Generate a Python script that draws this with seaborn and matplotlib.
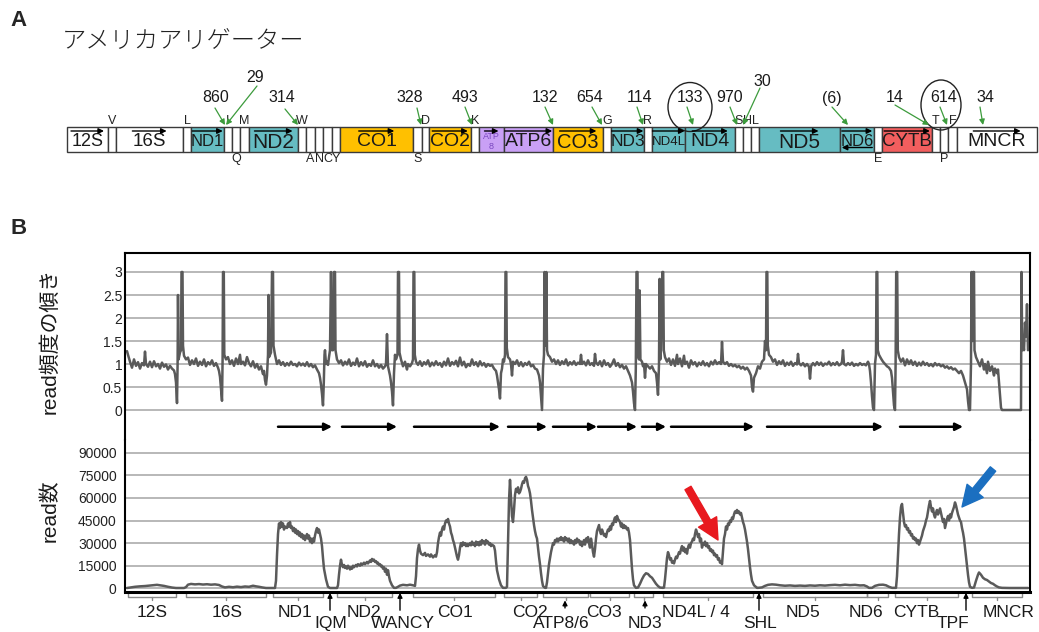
import matplotlib
matplotlib.use("Agg")
import matplotlib.pyplot as plt
from matplotlib.patches import Rectangle, Ellipse
import pandas as pd
import seaborn as sns

sns.set_theme(style="white")
plt.rcParams['font.family'] = ['Liberation Sans', 'Noto Sans CJK JP', 'DejaVu Sans']

# ---------------- panel A: gene map (map units along the genome) ----------------
map_names = ['12S', 'V', '16S', 'L', 'ND1', 'I', 'Q', 'M', 'ND2', 'W', 'A', 'N', 'C', 'Y',
             'CO1', 'S', 'D', 'CO2', 'K', 'ATP8', 'ATP6', 'CO3', 'G', 'ND3', 'R', 'ND4L', 'ND4',
             'S', 'H', 'L', 'ND5', 'ND6', 'E', 'CYTB', 'T', 'P', 'F', 'MNCR']
map_edges = [67, 108, 116, 183, 191, 224, 232, 240, 249, 298, 306, 315, 323, 332, 340, 413, 422,
             429, 471, 479, 504, 553, 603, 611, 644, 652, 685, 735, 743, 751, 759, 840, 874, 882,
             932, 940, 948, 957, 1037]
# tRNA label side: a = above the bar, b = below
map_side = ['', 'a', '', 'a', '', 'a', 'b', 'a', '', 'a', 'b', 'b', 'b', 'b', '', 'b', 'a', '', 'a',
            '', '', '', 'a', '', 'a', '', '', 'a', 'a', 'a', '', '', 'b', '', 'a', 'b', 'a', '']

num_text = ['29', '860', '314', '328', '493', '132', '654', '114', '133', '970', '30', '(6)', '14', '614', '34']
num_x = [255, 216, 282, 410, 465, 545, 590, 640, 690, 730, 762, 832, 895, 944, 985]
num_y = [77, 98, 98, 98, 98, 98, 98, 98, 98, 98, 82, 98, 98, 98, 98]
num_tail_x = [257, 215, 285, 417, 465, 545, 592, 637, 687, 730, 760, 832, 895, 940, 980]
num_tail_y = [86, 108, 109, 108, 107, 107, 107, 107, 107, 107, 88, 107, 105, 107, 107]
num_tip_x = [226, 225, 298, 421, 472, 553, 602, 643, 693, 737, 743, 848, 929, 947, 983]

# ---------------- panel B: read-frequency slope (position, value) ----------------
ratio_seg01 = [(127, 1.28), (128, 1.2), (130, 1.05), (132, 0.92), (134, 1.1), (136, 0.96), (138, 1.04),
               (140, 0.9), (142, 1.02), (144, 0.97), (145, 1.27), (146, 1.0), (148, 0.94), (150, 1.05),
               (152, 0.93), (154, 1.06), (156, 0.95), (158, 1.0), (160, 0.9), (162, 1.03), (164, 0.94),
               (166, 0.99), (168, 0.88), (170, 0.96), (172, 0.9), (174, 0.86), (175, 0.78), (176, 0.6),
               (177, 0.15), (177.6, 1.0), (178, 2.5), (178.6, 1.1), (180, 1.25), (181, 1.3), (181.5, 3.0),
               (182.5, 3.0), (183, 1.4), (184, 1.18)]
ratio_seg02 = [(186, 1.1), (188, 1.14), (190, 0.98), (192, 1.08), (194, 1.0), (196, 1.12), (198, 0.96),
               (200, 1.05), (202, 0.98), (204, 1.1), (206, 0.95), (208, 1.04), (210, 0.99), (212, 1.08),
               (214, 0.96), (216, 1.02), (218, 0.92), (219, 0.85), (220, 0.72), (221, 0.45), (222, 0.2),
               (222.6, 1.1), (223, 3.0), (223.8, 3.0), (224.3, 1.2), (226, 1.1)]
ratio_seg03 = [(228, 1.15), (230, 1.0), (232, 1.08), (234, 0.96), (236, 1.12), (238, 1.0), (240, 1.2),
               (241, 1.0), (243, 1.05), (245, 0.97), (247, 1.15), (249, 1.02), (251, 0.95), (253, 1.06),
               (255, 0.92), (257, 1.0), (259, 0.88), (261, 0.95), (263, 0.78), (264, 0.85), (265, 0.65),
               (266, 0.55), (267, 0.75), (268, 1.2), (268.5, 2.5), (269, 1.15), (271, 1.25), (272, 3.0),
               (273, 3.0), (273.5, 1.4), (275, 1.2)]
ratio_seg04 = [(277, 1.0), (279, 1.08), (281, 0.98), (283, 1.04), (285, 0.96), (287, 1.02), (289, 0.97),
               (291, 1.05), (293, 0.98), (295, 1.0), (297, 0.95), (299, 1.03), (301, 0.97), (303, 1.01),
               (305, 0.96), (307, 1.04), (309, 0.95), (311, 1.0), (313, 0.93), (315, 0.97), (317, 0.88),
               (319, 0.8), (320, 0.7), (321, 0.55), (322, 0.35), (323, 0.1), (323.8, 0.6), (324.5, 1.2),
               (325, 1.3), (326, 1.0), (327, 1.05), (328, 0.98), (329, 1.15), (330, 1.3), (331, 3.0),
               (332, 1.3), (333, 1.3), (334, 3.0), (335, 3.0), (335.5, 1.3), (337, 1.1)]
ratio_seg05 = [(339, 1.02), (341, 1.08), (343, 0.97), (345, 1.05), (347, 0.99), (349, 1.1), (351, 0.96),
               (353, 1.03), (355, 0.98), (357, 1.12), (359, 0.95), (361, 1.04), (363, 0.97), (365, 1.06),
               (367, 0.94), (369, 1.0), (371, 0.96), (373, 1.08), (375, 0.95), (377, 1.0), (379, 0.92),
               (381, 0.98), (383, 0.9), (385, 0.95), (386, 1.0), (387, 1.65), (388, 0.95), (389, 0.85),
               (390, 0.75), (391, 0.6), (392, 0.4), (393, 0.1), (394, 0.8), (395, 1.2), (396, 1.1),
               (397.5, 1.2), (398, 3.0), (399, 3.0), (399.5, 1.25), (401, 1.1)]
ratio_seg06 = [(403, 0.95), (405, 1.05), (407, 0.88), (408, 1.0), (410, 0.95), (412, 1.02), (413, 1.1),
               (413.5, 3.0), (414.3, 3.0), (414.8, 1.2), (416, 1.05)]
ratio_seg07 = [(418, 0.98), (420, 1.06), (422, 0.96), (424, 1.04), (426, 0.99), (428, 1.08), (430, 0.95),
               (432, 1.03), (434, 0.97), (436, 1.06), (438, 0.98), (440, 1.02), (442, 0.94), (444, 1.05),
               (446, 0.97), (448, 1.12), (450, 0.96), (452, 1.04), (454, 0.99), (456, 1.07), (458, 0.95),
               (460, 1.14), (462, 0.97), (464, 1.05), (466, 0.93), (468, 1.0), (470, 0.96), (472, 1.1),
               (474, 0.98), (476, 1.04), (478, 0.95), (480, 1.06), (482, 0.97), (484, 1.02), (486, 0.94),
               (488, 1.0), (490, 0.96), (492, 0.98), (494, 0.9), (496, 0.85), (497, 0.75), (498, 0.6),
               (499, 0.45), (500, 0.25), (501, 0.8), (502, 0.9), (503, 1.1), (504, 1.05), (505, 1.2),
               (505.5, 3.0), (506.3, 3.0), (506.8, 1.35), (508, 1.15)]
ratio_seg08 = [(510, 1.1), (511, 1.0), (512, 0.75), (513, 1.05), (515, 1.0), (517, 1.08), (519, 0.96),
               (521, 1.04), (523, 0.95), (525, 1.02), (527, 0.98), (529, 1.05), (531, 0.95), (533, 0.98),
               (535, 0.9), (537, 0.88), (539, 0.75), (540, 0.6), (541, 0.3), (542, 0.0), (543, 0.9),
               (544, 1.2), (544.5, 3.0), (545.5, 1.4), (546.3, 3.0), (547, 1.3), (548, 1.2)]
ratio_seg09 = [(550, 1.15), (552, 1.05), (554, 1.1), (556, 1.0), (558, 1.08), (560, 0.98), (562, 1.06),
               (564, 1.0), (566, 1.1), (568, 0.97), (570, 1.04), (572, 0.99), (574, 1.06), (576, 0.98),
               (578, 1.03), (580, 1.0), (581, 1.2), (582, 1.0), (584, 1.05), (586, 0.97), (588, 1.08),
               (590, 0.98), (592, 1.02), (594, 0.96), (595, 1.22), (596, 1.04), (598, 0.98), (600, 1.06),
               (602, 0.95), (604, 1.08), (606, 0.98), (608, 1.02), (610, 0.94), (612, 1.0), (614, 1.1),
               (616, 0.96), (618, 1.02), (620, 0.93), (622, 0.98), (624, 0.9), (626, 0.95), (628, 0.85),
               (630, 0.75), (632, 0.6), (633, 0.4), (634, 0.15), (635, 0.0), (635.8, 0.9), (636.5, 3.0),
               (637.5, 3.0), (638, 1.2), (639, 1.1), (639.6, 2.6), (640.4, 1.1), (642, 1.05)]
ratio_seg10 = [(643, 0.95), (644, 1.0), (645, 0.7), (646, 1.0), (648, 0.95), (650, 0.9), (652, 0.95),
               (654, 0.85), (656, 0.8), (657, 0.6), (658, 0.33), (659, 1.0), (659.6, 2.85), (660.3, 1.1),
               (661, 1.3), (662.3, 3.0), (663.2, 3.0), (663.8, 1.3), (665, 1.15)]
ratio_seg11 = [(667, 1.05), (669, 1.12), (671, 0.98), (673, 1.1), (675, 0.96), (677, 1.2), (678, 1.0),
               (680, 1.12), (682, 0.95), (684, 1.18), (685, 1.0), (687, 1.05), (689, 0.92), (691, 1.08),
               (693, 0.99), (695, 1.04), (697, 0.95), (699, 1.03), (701, 0.98), (703, 1.06), (705, 0.97),
               (707, 1.02), (709, 0.95), (711, 1.05), (713, 0.99), (715, 1.08), (717, 1.0), (719, 1.04),
               (721, 1.0), (722, 1.48), (723, 1.05), (725, 1.0), (727, 1.04), (729, 0.96), (731, 1.0),
               (733, 0.95), (735, 0.98), (737, 0.93), (739, 0.96), (741, 0.9), (743, 0.94), (745, 0.88),
               (747, 0.92), (749, 0.85), (751, 0.75), (752, 0.5), (753, 0.4), (754, 0.7), (756, 0.8),
               (758, 0.95), (760, 0.9), (762, 1.05), (764, 1.1), (765, 1.5), (766, 1.3), (766.5, 3.0),
               (767.3, 3.0), (767.8, 1.4), (769, 1.2)]
ratio_seg12 = [(771, 1.15), (773, 1.05), (775, 1.1), (777, 0.98), (779, 1.06), (781, 1.0), (783, 1.08),
               (785, 0.96), (787, 1.03), (789, 0.98), (791, 1.05), (793, 0.96), (795, 1.02), (797, 0.99),
               (798, 1.22), (799, 1.02), (801, 0.97), (803, 1.02), (805, 0.95), (807, 1.0), (809, 0.94),
               (810, 0.68), (811, 0.95), (813, 1.02), (815, 0.97), (817, 1.04), (819, 0.98), (821, 1.03),
               (823, 0.96), (825, 1.01), (827, 0.99), (829, 1.05), (831, 0.97), (833, 1.02), (835, 0.98),
               (837, 1.04), (839, 0.97), (841, 1.0), (842, 1.05), (843, 1.3), (844, 1.0), (846, 0.97),
               (848, 1.02), (850, 0.98), (852, 1.03), (854, 0.96), (856, 1.0), (858, 0.97), (860, 1.02),
               (862, 0.98), (864, 1.0), (866, 0.97), (868, 1.05), (869, 1.0), (870, 0.85), (871, 0.6),
               (872, 0.3), (873, 0.05), (874, 0.0), (875, 1.0), (876, 1.2), (876.5, 3.0), (877.3, 3.0),
               (877.8, 1.3), (879, 1.2)]
ratio_seg13 = [(881, 1.12), (883, 1.05), (885, 1.0), (887, 0.95), (889, 0.92), (891, 0.85), (892, 0.7),
               (893, 0.4), (894, 0.1), (895, 0.0), (895.6, 1.0), (896.2, 3.0), (897.2, 3.0), (897.8, 1.3),
               (899, 1.15)]
ratio_seg14 = [(901, 1.05), (903, 1.12), (905, 0.97), (907, 1.1), (909, 1.0), (911, 1.08), (913, 0.98),
               (915, 1.05), (917, 0.96), (919, 1.03), (921, 0.97), (923, 1.05), (925, 0.98), (927, 1.02),
               (929, 0.96), (931, 1.0), (933, 0.95), (935, 1.02), (937, 0.97), (939, 1.0), (941, 0.95),
               (943, 0.98), (945, 0.92), (947, 0.95), (949, 0.9), (951, 0.93), (953, 0.88), (955, 0.9),
               (957, 0.85), (959, 0.8), (961, 0.85), (963, 0.75), (965, 0.6), (967, 0.45), (968, 0.2),
               (969, 0.0), (970, 0.0), (971, 1.0), (971.5, 3.0), (972.5, 1.5), (973, 3.0), (974, 3.0),
               (974.5, 1.3), (976, 1.15)]
ratio_seg15 = [(978, 1.05), (980, 0.95), (982, 1.1), (984, 0.88), (985, 1.0), (987, 0.8), (988, 1.05),
               (990, 0.85), (992, 0.95), (994, 0.75), (995, 0.9), (997, 0.8), (998, 0.88), (999, 0.6),
               (1000, 0.3), (1001, 0.05), (1002, 0.0), (1021, 0.0), (1021.5, 3.0), (1022.2, 1.3),
               (1023, 1.5), (1024, 1.3), (1025, 1.9), (1026, 1.6), (1027, 2.3), (1028, 1.3)]

# ---------------- panel B: read counts, thousands (position, value) ----------------
read_12S = [(127, 0.2), (131, 0.6), (135, 1.0), (140, 1.3), (145, 1.5), (150, 1.8), (154, 2.1),
            (157, 2.3), (160, 2.0), (164, 1.6), (168, 1.0), (172, 0.5), (176, 0.2), (184, 0.2)]
read_16S = [(186, 0.8), (188, 2.4), (191, 2.9), (195, 2.6), (199, 2.8), (203, 2.5), (207, 2.7),
            (211, 2.4), (215, 2.6), (219, 2.2), (222, 1.2), (225, 0.6), (229, 1.0), (233, 0.7),
            (237, 1.1), (241, 0.8), (245, 1.2), (249, 1.0), (253, 1.7), (256, 1.3), (259, 1.0),
            (262, 0.6), (266, 0.2), (275, 0.2)]
read_ND1 = [(276, 5), (277, 22), (278, 36), (279, 43), (280, 40), (281, 44), (282, 41), (283, 43),
            (284, 39), (285, 41), (287, 40), (288, 43), (289, 41), (290, 44), (291, 40), (292, 41),
            (293, 38), (294, 40), (295, 37), (296, 39), (297, 36), (298, 38), (299, 35), (300, 37),
            (301, 34), (302, 36), (303, 33), (304, 35), (305, 32), (306, 34), (307, 36), (308, 33),
            (309, 35), (310, 31), (311, 33), (312, 30), (313, 33), (314, 31), (315, 35), (316, 38),
            (317, 40), (318, 37), (319, 39), (320, 36), (321, 33), (322, 28), (323, 20), (324, 13),
            (326, 6), (328, 1), (330, 0.2), (337, 0.2)]
read_ND2 = [(338, 2), (339, 9), (340, 15), (341, 19), (342, 15.5), (343, 14), (344, 15.5), (345, 13.5),
            (346, 14.5), (347, 13), (348, 15), (349, 14), (350, 12.5), (351, 14), (352, 13), (353, 15),
            (354, 14), (356, 15.5), (357, 14.5), (358, 16), (360, 15), (361, 16.5), (362, 15.5),
            (364, 17), (365, 16), (367, 17.5), (368, 16.5), (370, 18.5), (371, 17.5), (372, 19.5),
            (373, 18.5), (374, 19), (375, 17.5), (376, 18), (377, 16.5), (378, 17), (379, 15.5),
            (380, 16), (381, 14.5), (382, 15), (383, 13), (384, 14), (385, 11), (386, 13), (387, 9),
            (388, 12), (389, 8), (390, 5), (392, 2), (394, 0.3)]
read_WANCY = [(396, 0.3), (398, 1.0), (400, 1.8), (403, 2.3), (407, 2.0), (410, 2.4), (413, 2.0),
              (415, 1.6), (416, 8)]
read_CO1 = [(417, 20), (418, 26), (419, 29), (420, 25), (421, 23), (423, 22), (425, 23.5), (426, 21.5),
            (428, 22.5), (430, 21), (431, 22.5), (433, 20.5), (435, 22), (436, 21), (437, 24), (438, 30),
            (439, 34), (440, 37), (441, 35), (442, 39), (443, 41), (444, 39), (445, 43), (446, 45),
            (447, 44), (448, 46), (449, 43), (450, 41), (451, 37), (452, 35), (453, 32), (454, 30),
            (455, 27), (456, 24), (457, 21), (458, 19), (459, 22), (460, 27), (461, 30), (462, 28),
            (463, 30.5), (464, 29), (465, 30), (466, 28), (467, 29.5), (468, 28), (470, 30), (471, 28.5),
            (472, 31), (473, 29), (474, 30), (475, 28), (476, 31), (477, 29), (478, 30.5), (479, 28.5),
            (480, 31), (481, 29), (482, 32), (483, 30), (484, 31), (485, 29), (486, 32), (487, 30),
            (488, 31), (489, 29), (490, 30), (491, 28), (492, 29), (494, 28), (495, 25), (496, 18),
            (497, 12), (499, 6), (501, 2), (503, 0.3), (506, 0.3)]
read_CO2 = [(507, 1), (508, 30), (509, 58), (510, 72), (511, 60), (512, 48), (513, 44), (514, 52),
            (515, 62), (516, 66), (517, 64), (518, 67), (519, 63), (520, 64), (521, 66), (522, 69),
            (523, 71), (524, 70), (525, 73), (526, 74), (527, 72), (528, 68), (529, 66), (530, 63),
            (531, 58), (532, 52), (533, 47), (534, 42), (535, 38), (536, 35), (537, 33), (538, 27),
            (539, 21), (540, 16), (541, 10), (542, 5), (543, 1.5), (545, 0.3)]
read_ATP = [(546, 0.3), (547, 4), (548, 10), (549, 16), (550, 20), (551, 24), (552, 27), (553, 30),
            (554, 29), (555, 32), (556, 31), (557, 33), (558, 31), (559, 33), (560, 32), (561, 34),
            (562, 32), (563, 33), (564, 31), (565, 34), (566, 32), (567, 33), (568, 31), (569, 33),
            (570, 30), (571, 32), (572, 30), (573, 31), (574, 29), (575, 32), (576, 30), (577, 33),
            (578, 31), (579, 32), (580, 29), (581, 31), (582, 28), (583, 30), (584, 32), (585, 29),
            (586, 33), (587, 31), (588, 34), (589, 30), (590, 27)]
read_CO3 = [(591, 33), (592, 29), (593, 24), (594, 21), (595, 26), (596, 33), (597, 38), (598, 40),
            (599, 42), (600, 38), (601, 36), (602, 39), (603, 37), (604, 35), (605, 36), (606, 34),
            (607, 37), (608, 39), (609, 38), (610, 41), (611, 39), (612, 43), (613, 42), (614, 45),
            (615, 47), (616, 44), (617, 48), (618, 46), (619, 45), (620, 44), (621, 41), (622, 43),
            (623, 40), (624, 42), (625, 40), (626, 41), (627, 39), (628, 40), (629, 37), (630, 32),
            (631, 22), (632, 13), (633, 6), (634, 2), (636, 0.3)]
read_ND3 = [(638, 0.5), (640, 3), (642, 6), (644, 8.5), (646, 10), (648, 9.5), (650, 8), (652, 7),
            (654, 5), (656, 3), (658, 1.5), (660, 0.5), (663, 0.3)]
read_ND4 = [(664, 0.5), (665, 6), (666, 13), (667, 20), (668, 24), (669, 22), (670, 19), (671, 20),
            (672, 17), (673, 18), (674, 16.5), (675, 19), (676, 21), (677, 20), (678, 22), (679, 24),
            (680, 23), (681, 26), (682, 28), (683, 25), (684, 27), (685, 24), (686, 26), (687, 23),
            (688, 27), (689, 29), (690, 27), (691, 30), (692, 31), (693, 33), (694, 32), (695, 36),
            (696, 39), (697, 37), (698, 34), (699, 36), (700, 31), (701, 33), (702, 27), (703, 30),
            (704, 29), (705, 31), (706, 28), (707, 30), (708, 27), (709, 28), (710, 25), (711, 26),
            (712, 24), (713, 25), (714, 22), (715, 23), (716, 21), (717, 22), (718, 19), (719, 20),
            (720, 17), (721, 18), (722, 16), (723, 25), (724, 33), (725, 36), (726, 41), (727, 39),
            (728, 43), (729, 42), (730, 45), (731, 44), (732, 47), (733, 46), (734, 49), (735, 51),
            (736, 50), (737, 52), (738, 50), (739, 51), (740, 49), (741, 50), (742, 47), (743, 44),
            (744, 42), (745, 39), (746, 35), (747, 31), (748, 26), (749, 20), (750, 14), (751, 9),
            (752, 5), (754, 2), (757, 0.3)]
read_ND5 = [(758, 0.3), (762, 0.6), (765, 1.6), (768, 2.3), (772, 2.6), (776, 2.4), (780, 2.0),
            (785, 1.7), (790, 1.9), (795, 1.6), (800, 1.8), (805, 1.6), (810, 1.9), (815, 1.7),
            (820, 2.0), (825, 1.8), (830, 2.1), (835, 2.3), (840, 2.0), (845, 2.4), (850, 2.1),
            (855, 2.3), (860, 1.9), (864, 2.0), (867, 1.2), (869, 0.3)]
read_ND6 = [(872, 0.3), (875, 1.6), (879, 2.3), (883, 2.4), (886, 2.0), (889, 1.0), (892, 0.3)]
read_CYTB = [(896, 0.3), (897, 8), (898, 22), (899, 36), (900, 47), (901, 54), (902, 56), (903, 50),
             (904, 44), (905, 41), (906, 42), (907, 39), (908, 40), (909, 37), (910, 38), (911, 35),
             (912, 36), (913, 33), (914, 34), (915, 32), (916, 33), (917, 30), (918, 32), (919, 29),
             (920, 31), (921, 33), (922, 35), (923, 38), (924, 40), (925, 42), (926, 45), (927, 47),
             (928, 51), (929, 55), (930, 58), (931, 54), (932, 51), (933, 53), (934, 49), (935, 47),
             (936, 50), (937, 52), (938, 49), (939, 51), (940, 53), (941, 50), (942, 47), (943, 44),
             (944, 46), (945, 40), (946, 43), (947, 46), (948, 48), (949, 45), (950, 49), (951, 47),
             (952, 50), (953, 52), (954, 54), (955, 57), (956, 55), (957, 52), (958, 49), (959, 47),
             (960, 45), (961, 44), (962, 40), (963, 37), (964, 33), (965, 27), (966, 21), (967, 15),
             (968, 9), (969, 4), (970, 1), (972, 0.3)]
read_MNCR = [(974, 0.5), (976, 5), (978, 9), (979, 10.5), (981, 9), (983, 7), (985, 6), (987, 5.5),
             (989, 4.5), (991, 3.5), (993, 3), (995, 2), (997, 1.2), (999, 0.6), (1002, 0.3),
             (1010, 0.2), (1020, 0.2), (1028, 0.2)]

# transcript arrows between the two plots
tx_start = [278, 342, 414, 508, 553, 598, 642, 671, 767, 900]
tx_end = [332, 397, 500, 547, 597, 637, 666, 754, 883, 963]

# gene brackets and labels under the read plot
brk_start = [128, 186, 273, 337, 413, 504, 543, 590, 634, 663, 763, 867, 895, 972]
brk_end = [176, 266, 323, 392, 495, 537, 588, 629, 653, 753, 867, 888, 958, 1022]
lab_row1 = ['12S', '16S', 'ND1', 'ND2', 'CO1', 'CO2', 'CO3', 'ND4L / 4', 'ND5', 'ND6', 'CYTB', 'MNCR']
lab_row1_x = [152, 227, 295, 364, 455, 530, 604, 696, 803, 866, 916, 1009]
lab_row2 = ['IQM', 'WANCY', 'ATP8/6', 'ND3', 'SHL', 'TPF']
lab_row2_x = [331, 403, 561, 645, 760, 953]
trna_arrow_x = [330, 400, 565, 645, 759, 966]
trna_arrow_long = [True, True, False, False, True, True]

yticks_ratio = [0, 0.5, 1, 1.5, 2, 2.5, 3]
yticks_reads = [0, 15000, 30000, 45000, 60000, 75000, 90000]

TEAL, ORANGE, PURPLE, RED = '#66bcc2', '#ffc000', '#c9a0f5', '#f25e5e'
GREEN = '#3c9b3c'


def seg_color(name):
    if name.startswith('ND'):
        return TEAL
    if name.startswith('CO'):
        return ORANGE
    if name.startswith('ATP'):
        return PURPLE
    if name == 'CYTB':
        return RED
    return 'white'


fig = plt.figure(figsize=(10.39, 6.32), dpi=100)

# ================= A =================
axA = fig.add_axes([0, 1 - 190 / 632, 1, 190 / 632])
axA.set_xlim(0, 1039)
axA.set_ylim(190, 0)
axA.axis('off')

axA.text(10, 21, 'A', fontsize=16, fontweight='bold', va='center', ha='left')
axA.text(62, 42, 'アメリカアリゲーター', fontsize=17.5, va='center', ha='left',
         family=['Noto Sans CJK JP'], fontweight='light', color='#222222')

label_size = {'12S': 13, '16S': 13.5, 'ND1': 12, 'ND3': 12.5, 'ND4L': 9.5, 'ND6': 12,
              'ND2': 15, 'ND5': 15, 'CO3': 14.5, 'CYTB': 13.5}
for i, name in enumerate(map_names):
    x0, x1 = map_edges[i], map_edges[i + 1]
    axA.add_patch(Rectangle((x0, 127), x1 - x0, 25, facecolor=seg_color(name),
                            edgecolor='#3a3a3a', lw=1.0))
    xc = (x0 + x1) / 2
    if len(name) == 1:
        if map_side[i] == 'a':
            axA.text(xc, 121, name, fontsize=9, ha='center', va='center', color='#222222')
        else:
            axA.text(xc, 159, name, fontsize=9, ha='center', va='center', color='#222222')
        continue
    if name == 'ATP8':
        axA.text(xc, 136.5, 'ATP', fontsize=6.5, ha='center', va='center', color='#7a48c0')
        axA.text(xc, 146.5, '8', fontsize=6.5, ha='center', va='center', color='#7a48c0')
        half = 7
    else:
        fs = label_size.get(name, 14)
        axA.text(xc, 142, name, fontsize=fs, ha='center', va='center', color='#1a1a1a')
        half = len(name) * 5.5 * fs / 13
    if name == 'ND6':
        axA.annotate('', xy=(xc - half, 147.5), xytext=(xc + half, 147.5),
                     arrowprops=dict(arrowstyle='-|>', lw=1.0, color='black',
                                     mutation_scale=8, shrinkA=0, shrinkB=0))
    axA.annotate('', xy=(xc + half, 131), xytext=(xc - half, 131),
                 arrowprops=dict(arrowstyle='-|>', lw=1.0, color='black',
                                 mutation_scale=8, shrinkA=0, shrinkB=0))

for t, x, y, x0, y0, x1 in zip(num_text, num_x, num_y, num_tail_x, num_tail_y, num_tip_x):
    axA.text(x, y, t, fontsize=11.5, ha='center', va='center', color='#1a1a1a')
    axA.annotate('', xy=(x1, 125), xytext=(x0, y0),
                 arrowprops=dict(arrowstyle='-|>', lw=0.9, color=GREEN,
                                 mutation_scale=8, shrinkA=0, shrinkB=0))

axA.add_patch(Ellipse((690, 107), 44, 49, fill=False, edgecolor='#222222', lw=1.0))
axA.add_patch(Ellipse((941, 105), 40, 50, fill=False, edgecolor='#222222', lw=1.0))

# ================= B =================
fig.text(10 / 1039, 1 - 229 / 632, 'B', fontsize=16, fontweight='bold', va='center', ha='left')

ax_top = fig.add_axes([125 / 1039, 1 - 440 / 632, 905 / 1039, 187 / 632])
ax_bot = fig.add_axes([125 / 1039, 1 - 592 / 632, 905 / 1039, 152 / 632])

ratio_parts = [ratio_seg01, ratio_seg02, ratio_seg03, ratio_seg04, ratio_seg05, ratio_seg06,
               ratio_seg07, ratio_seg08, ratio_seg09, ratio_seg10, ratio_seg11, ratio_seg12,
               ratio_seg13, ratio_seg14, ratio_seg15]
ratio_df = pd.DataFrame([p for part in ratio_parts for p in part], columns=['pos', 'slope'])

read_parts = [read_12S, read_16S, read_ND1, read_ND2, read_WANCY, read_CO1, read_CO2, read_ATP,
              read_CO3, read_ND3, read_ND4, read_ND5, read_ND6, read_CYTB, read_MNCR]
read_df = pd.DataFrame([p for part in read_parts for p in part], columns=['pos', 'kreads'])
read_df['reads'] = read_df['kreads'] * 1000

LINE = '#5a5a5a'
GRID = '#b8b8b8'

for ax in (ax_top, ax_bot):
    ax.set_facecolor('white')
    ax.set_xlim(125, 1030)
    ax.set_xticks([])
    ax.tick_params(axis='y', length=0, labelsize=10, colors='#222222')
    ax.grid(axis='y', color=GRID, lw=1.4)
    ax.set_axisbelow(True)
    for s in ax.spines.values():
        s.set_color('black')
        s.set_linewidth(1.5)

sns.lineplot(data=ratio_df, x='pos', y='slope', ax=ax_top, sort=False, estimator=None,
             errorbar=None, color=LINE, lw=1.8)
ax_top.set_ylim(-0.652, 3.413)
ax_top.set_yticks(yticks_ratio)
ax_top.set_yticklabels(['0', '0.5', '1', '1.5', '2', '2.5', '3'])
ax_top.tick_params(axis='y', pad=2)
ax_top.spines['bottom'].set_visible(False)
ax_top.set_xlabel('')
ax_top.set_ylabel('')

for x0, x1 in zip(tx_start, tx_end):
    ax_top.annotate('', xy=(x1, -0.364), xytext=(x0, -0.364),
                    arrowprops=dict(arrowstyle='-|>', lw=1.8, color='black',
                                    mutation_scale=11, shrinkA=0, shrinkB=0))

sns.lineplot(data=read_df, x='pos', y='reads', ax=ax_bot, sort=False, estimator=None,
             errorbar=None, color=LINE, lw=1.8)
ax_bot.set_ylim(-2456, 98430)
ax_bot.set_yticks(yticks_reads)
ax_bot.set_yticklabels([str(v) for v in yticks_reads])
ax_bot.tick_params(axis='y', pad=6)
ax_bot.spines['top'].set_visible(False)
ax_bot.spines['bottom'].set_linewidth(2.2)
ax_bot.set_xlabel('')
ax_bot.set_ylabel('')

big_arrow = 'simple,head_length=0.75,head_width=0.75,tail_width=0.25'
ax_bot.annotate('', xy=(718, 32060), xytext=(688, 66570),
                arrowprops=dict(arrowstyle=big_arrow, color='#e8191f', mutation_scale=20,
                                shrinkA=0, shrinkB=0))
ax_bot.annotate('', xy=(962, 53960), xytext=(993, 79180),
                arrowprops=dict(arrowstyle=big_arrow, color='#1b6fc0', mutation_scale=20,
                                shrinkA=0, shrinkB=0))

tr = ax_bot.get_xaxis_transform()
for x0, x1 in zip(brk_start, brk_end):
    ax_bot.plot([x0, x0, x1, x1], [-0.005, -0.03, -0.03, -0.005], transform=tr,
                color='#8a8a8a', lw=1.0, clip_on=False)
    xm = (x0 + x1) / 2
    ax_bot.plot([xm, xm], [-0.03, -0.05], transform=tr, color='#8a8a8a', lw=1.0, clip_on=False)

for t, x in zip(lab_row1, lab_row1_x):
    ax_bot.text(x, -0.132, t, transform=tr, fontsize=12.5, ha='center', va='center', color='#1a1a1a')
for t, x in zip(lab_row2, lab_row2_x):
    ax_bot.text(x, -0.21, t, transform=tr, fontsize=12.5, ha='center', va='center', color='#1a1a1a')
for x, long_arrow in zip(trna_arrow_x, trna_arrow_long):
    y_from, y_to = (-0.12, -0.005) if long_arrow else (-0.105, -0.055)
    ax_bot.annotate('', xy=(x, y_to), xytext=(x, y_from), xycoords=tr, textcoords=tr,
                    arrowprops=dict(arrowstyle='-|>', lw=1.0, color='black',
                                    mutation_scale=7, shrinkA=0, shrinkB=0),
                    annotation_clip=False)

fig.text(50 / 1039, 1 - 341 / 632, 'read頻度の傾き', rotation=90, fontsize=15,
         ha='center', va='center', color='#1a1a1a')
fig.text(50 / 1039, 1 - 511 / 632, 'read数', rotation=90, fontsize=15,
         ha='center', va='center', color='#1a1a1a')

fig.savefig('out.png', dpi=100, facecolor='white')
